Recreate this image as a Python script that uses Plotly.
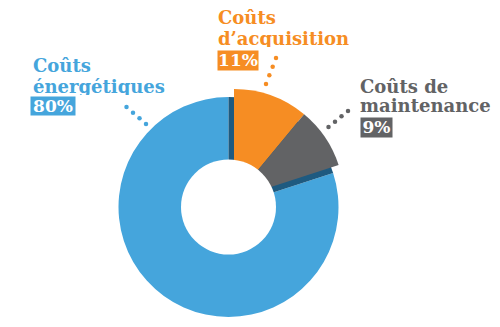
import numpy as np
import plotly.graph_objects as go

W, H = 500, 327

# ---- data ----
categories = ["Coûts d’acquisition", "Coûts de maintenance", "Coûts énergétiques"]
values = [11, 9, 80]
pct_labels = ["11%", "9%", "80%"]
label_lines = [["Coûts", "d’acquisition"], ["Coûts de", "maintenance"], ["Coûts", "énergétiques"]]

# ---- style ----
BLUE = "#45A5DC"
DARK = "#1E5A80"
ORANGE = "#F68D23"
GRAY = "#626365"
CLEAR = "rgba(0,0,0,0)"
FONT = "DejaVu Serif"

cx, cy, R = 228.5, 207.0, 110.0        # main donut (pixels)
cx2, cy2 = 234.0, 199.0                 # pulled-out wedge centre
RH = 47.5                               # hole radius


def dom(x, y, r):
    return dict(x=[(x - r) / W, (x + r) / W], y=[1 - (y + r) / H, 1 - (y - r) / H])


pulled = values[0] + values[1]
fig = go.Figure()
# blue energy slice
fig.add_trace(go.Pie(values=[pulled, values[2]], marker=dict(colors=[CLEAR, BLUE], line=dict(width=0)),
                     sort=False, direction="clockwise", rotation=0, textinfo="none",
                     hoverinfo="skip", domain=dom(cx, cy, R), showlegend=False))
# dark side of the cut
fig.add_trace(go.Pie(values=[pulled, values[2]], marker=dict(colors=[DARK, CLEAR], line=dict(width=0)),
                     sort=False, direction="clockwise", rotation=0, textinfo="none",
                     hoverinfo="skip", domain=dom(cx, cy, R), showlegend=False))
# pulled acquisition + maintenance
fig.add_trace(go.Pie(values=values, labels=categories,
                     marker=dict(colors=[ORANGE, GRAY, CLEAR], line=dict(width=0)),
                     sort=False, direction="clockwise", rotation=0, textinfo="none",
                     hoverinfo="skip", domain=dom(cx2, cy2, R), showlegend=False))

# leader dots
leaders = [((276, 58), (266, 84), ORANGE), ((348, 111), (328.5, 127), GRAY), ((126.5, 107), (146, 124), BLUE)]
for (x0, y0), (x1, y1), col in leaders:
    fig.add_trace(go.Scatter(x=np.linspace(x0, x1, 4), y=np.linspace(y0, y1, 4), mode="markers",
                             marker=dict(size=4.5, color=col), hoverinfo="skip", showlegend=False))

fig.update_xaxes(range=[0, W], visible=False, domain=[0, 1])
fig.update_yaxes(range=[H, 0], visible=False, domain=[0, 1])

fig.add_shape(type="circle", xref="paper", yref="paper",
              x0=(cx - RH) / W, x1=(cx + RH) / W, y0=1 - (cy + RH) / H, y1=1 - (cy - RH) / H,
              fillcolor="white", line=dict(width=0), layer="above")

# labels: (x left, baseline of line1, baseline of line2, box x0, box y0, box w, box h, colour)
label_pos = [
    (217, 24, 45, 216.5, 50, 40, 18.5, ORANGE),
    (359, 93, 112, 360, 116.5, 31, 18.5, GRAY),
    (32, 72, 93, 29.5, 96.5, 44, 17.5, BLUE),
]
FS = 18
for lines, pct, (lx, b1, b2, bx, by, bw, bh, col) in zip(label_lines, pct_labels, label_pos):
    for txt, b in zip(lines, (b1, b2)):
        fig.add_annotation(x=lx / W, y=1 - (b - 6.5) / H, xref="paper", yref="paper", xanchor="left",
                           yanchor="middle", height=17, valign="middle", text="<b>" + txt + "</b>",
                           showarrow=False, borderpad=0,
                           font=dict(family=FONT, size=FS, color=col))
    fig.add_annotation(x=bx / W, y=1 - by / H, xref="paper", yref="paper", xanchor="left",
                       yanchor="top", text="<b>" + pct + "</b>", showarrow=False, borderpad=0,
                       width=bw, height=bh, bgcolor=col, align="center", valign="middle",
                       font=dict(family=FONT, size=17, color="white"))

fig.update_layout(width=W, height=H, margin=dict(l=0, r=0, t=0, b=0),
                  paper_bgcolor="white", plot_bgcolor="white", showlegend=False)
fig.write_html("out.html")
